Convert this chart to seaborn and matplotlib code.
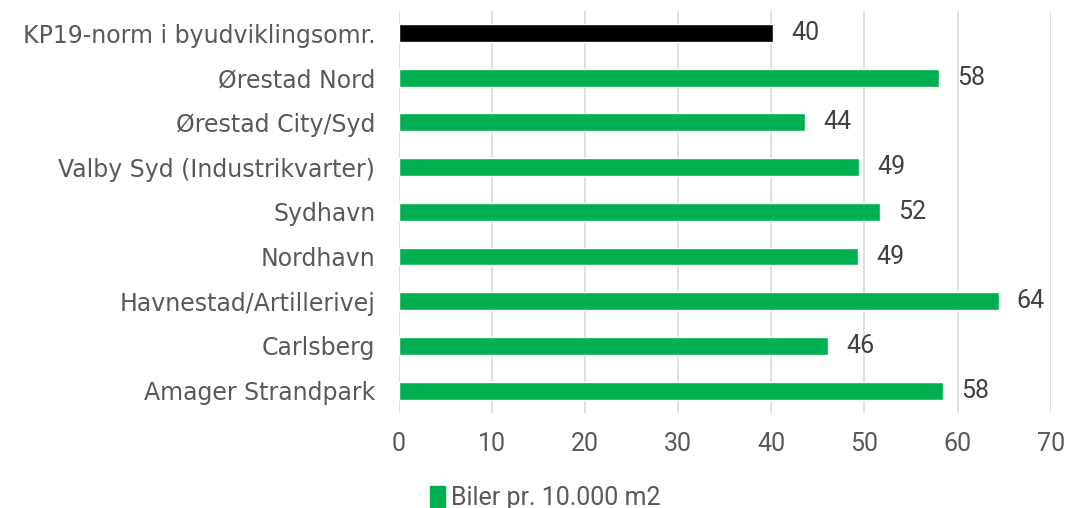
import matplotlib
matplotlib.use("Agg")
import matplotlib.pyplot as plt
import matplotlib.patches as mpatches
import seaborn as sns
import pandas as pd

categories = ["KP19-norm i byudviklingsomr.", "Ørestad Nord", "Ørestad City/Syd",
              "Valby Syd (Industrikvarter)", "Sydhavn", "Nordhavn",
              "Havnestad/Artillerivej", "Carlsberg", "Amager Strandpark"]
values = [40.2, 58.0, 43.6, 49.4, 51.7, 49.3, 64.4, 46.1, 58.4]
bar_colors = ["#000000"] + ["#00B050"] * 8
series_name = "Biler pr. 10.000 m2"
xticks = [0, 10, 20, 30, 40, 50, 60, 70]

df = pd.DataFrame({"cat": categories, "val": values})

sns.set_theme(style="white")
plt.rcParams["font.family"] = ["DejaVu Sans"]

fig = plt.figure(figsize=(10.71, 5.08), dpi=100)
ax = fig.add_axes([0.3725, 0.187, 0.6085, 0.792])

sns.barplot(data=df, y="cat", x="val", hue="cat", palette=bar_colors,
            order=categories, hue_order=categories, legend=False,
            width=0.4, ax=ax, saturation=1)

for c in ax.containers:
    ax.bar_label(c, labels=[f"{v:.0f}" for v in c.datavalues], padding=13,
                 fontsize=18, color="#404040", fontfamily="Roboto")

ax.set_xlim(0, 70)
ax.set_xticks(xticks)
ax.set_xticklabels([str(t) for t in xticks], fontsize=18, color="#595959",
                   fontfamily="Roboto")
ax.tick_params(axis="x", length=0, pad=14)
ax.tick_params(axis="y", length=0, pad=17, labelsize=17, labelcolor="#595959")
ax.set_xlabel("")
ax.set_ylabel("")
ax.grid(axis="x", color="#D9D9D9", linewidth=1.2)
ax.set_axisbelow(True)
for s in ax.spines.values():
    s.set_visible(False)

handle = mpatches.Patch(color="#00B050", label=series_name)
fig.legend(handles=[handle], loc="center", bbox_to_anchor=(0.509, 0.02),
           frameon=False, handlelength=0.6, handleheight=0.9,
           handletextpad=0.25, labelcolor="#595959",
           prop={"family": "Roboto", "size": 18})

fig.savefig("out.png", dpi=100)
